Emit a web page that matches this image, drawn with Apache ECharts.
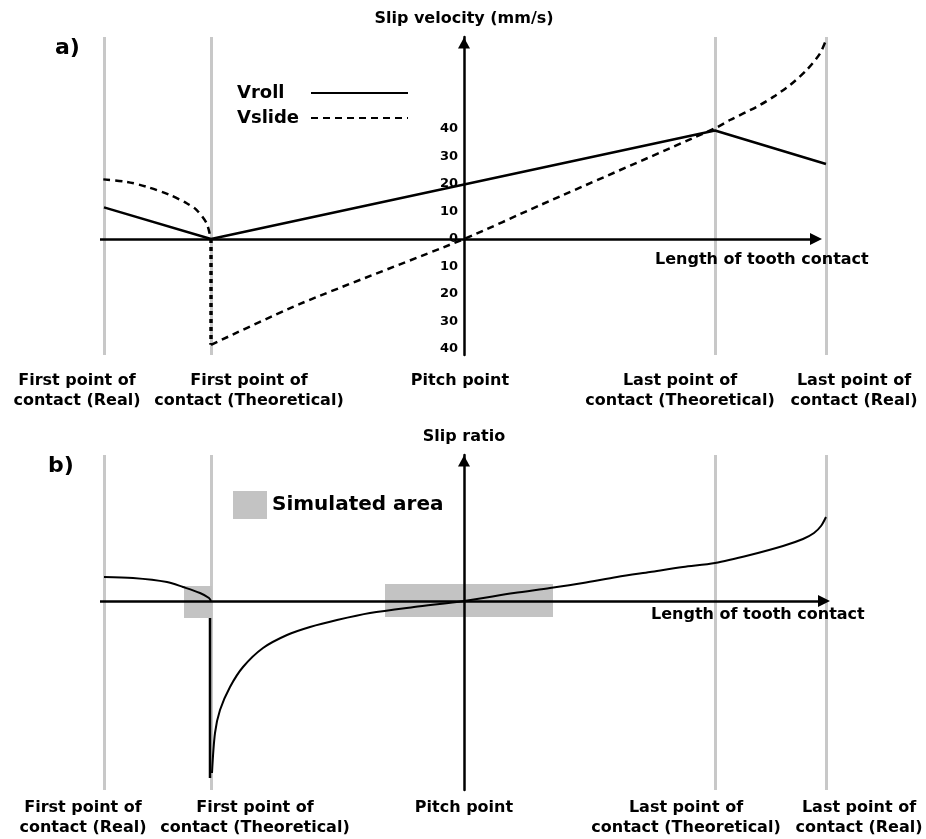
<!DOCTYPE html>
<html><head><meta charset="utf-8">
<script src="https://cdn.jsdelivr.net/npm/echarts@6/dist/echarts.min.js"></script>
<style>html,body{margin:0;padding:0;background:#fff}#c{width:926px;height:839px}</style>
</head><body><div id="c"></div>
<script>
// positions along the path of contact (pitch point = 0)
const contactPoints = [-36.0, -25.3, 0, 25.1, 36.2];
const contactLabels = ['First point of\ncontact (Real)', 'First point of\ncontact (Theoretical)', 'Pitch point', 'Last point of\ncontact (Theoretical)', 'Last point of\ncontact (Real)'];
const velocityTicks = [-40, -30, -20, -10, 0, 10, 20, 30, 40];

// a) slip velocity (mm/s)
const vrollX = [-36.0, -25.3, 0, 25.1, 36.2];
const vrollY = [11.5, 0, 19.8, 39.5, 27.3];
const vslideFlankX = [-36.07, -33.73, -31.73, -29.4, -27.73, -26.73, -25.73, -25.33];
const vslideFlankY = [21.7, 20.8, 19.0, 16.0, 13.0, 10.5, 5.7, 0];
const vslideDropX = [-25.3, -25.3];
const vslideDropY = [0, -38.5];
const vslideMainX = [-25.3, -16.4, 0, 7.6, 25.1, 26.6, 29.27, 30.93, 32.6, 34.27, 35.6, 36.27];
const vslideMainY = [-38.5, -23.6, 0, 12.3, 40.3, 43.3, 48.1, 51.7, 56.0, 61.5, 67.5, 73.0];

// b) slip ratio
const slipLeftX = [-36.0, -33.1, -29.7, -28.1, -26.4, -25.5, -25.3];
const slipLeftY = [0.24, 0.23, 0.19, 0.14, 0.08, 0.03, 0];
const slipDropX = [-25.4, -25.4];
const slipDropY = [-0.17, -1.77];
const slipRightX = [-25.2, -24.9, -24.4, -23.4, -22.1, -20.1, -17.7, -15.4, -12.7, -9.4, -5.0, 0, 5.0, 8.6, 11.9, 15.3, 18.6, 21.9, 25.1, 28.6, 31.9, 33.9, 35.0, 35.7, 36.2];
const slipRightY = [-1.72, -1.32, -1.09, -0.86, -0.66, -0.47, -0.34, -0.26, -0.19, -0.12, -0.06, 0, 0.08, 0.13, 0.18, 0.24, 0.29, 0.34, 0.38, 0.46, 0.55, 0.62, 0.68, 0.75, 0.84];

// simulated areas [x start, x end, y top, y bottom]
const simX0 = [-28.0, -7.9];
const simX1 = [-25.2, 8.9];
const simYTop = [0.15, 0.17];
const simYBottom = [-0.17, -0.16];

const FF = 'DejaVu Sans';
const zip = (xs, ys) => xs.map((x, i) => [x, ys[i]]);
const grayPts = contactPoints.filter(v => v !== 0);

function labelAxis(gi, margin, pads, which) {
  const rich = {};
  pads.forEach((p, i) => {
    rich['s' + i] = { fontFamily: FF, fontWeight: 'bold', fontSize: 16, lineHeight: 20, color: '#000', padding: p };
  });
  return {
    gridIndex: gi, type: 'value', min: -36.4, max: 36.6, position: 'bottom', offset: 0,
    axisLine: { show: false, onZero: false }, axisTick: { show: false }, splitLine: { show: false },
    axisLabel: {
      customValues: which.map(i => contactPoints[i]), margin: margin, showMinLabel: true, showMaxLabel: true, hideOverlap: false,
      fontFamily: FF, fontWeight: 'bold', fontSize: 16, lineHeight: 20, color: '#000',
      formatter: function (v) {
        let idx = 0, best = 1e9;
        contactPoints.forEach((c, i) => { if (Math.abs(c - v) < best) { best = Math.abs(c - v); idx = i; } });
        return contactLabels[idx].split('\n').map(s => '{s' + idx + '|' + s + '}').join('\n');
      },
      rich: rich
    }
  };
}

function grayLines(xi) {
  return {
    type: 'line', xAxisIndex: xi, yAxisIndex: xi >= 2 ? 1 : 0, data: grayPts.map(x => [x, 0]), symbol: 'none',
    lineStyle: { opacity: 0 }, z: 1, silent: true,
    markLine: { silent: true, z: 1, symbol: 'none', label: { show: false }, animation: false,
      lineStyle: { color: '#c8c8c8', width: 3, type: 'solid' },
      data: grayPts.map(x => ({ xAxis: x })) }
  };
}

function xArrow(xi, yi, endX) {
  return {
    type: 'line', xAxisIndex: xi, yAxisIndex: yi, data: [], symbol: 'none', z: 4, silent: true,
    markLine: { silent: true, z: 4, symbol: ['none', 'triangle'], symbolSize: 12, label: { show: false }, animation: false,
      lineStyle: { color: '#000', width: 2.5, type: 'solid' },
      data: [[{ coord: [-36.4, 0] }, { coord: [endX, 0] }]] }
  };
}

const lineBase = { type: 'line', symbol: 'none', silent: true, z: 3 };
const padsA = [[0, 54, 0, 0], [0, 0, 0, 76], [0, 8, 0, 0], [0, 70, 0, 0], [0, 0, 0, 56]];
const padsB = [[0, 42, 0, 0], [0, 0, 0, 88], [0, 0, 0, 0], [0, 58, 0, 0], [0, 0, 0, 66]];

const option = {
  animation: false,
  backgroundColor: '#fff',
  title: [
    { text: 'a)', left: 55, top: 37, padding: 0, textStyle: { fontFamily: FF, fontWeight: 'bold', fontSize: 22, color: '#000' } },
    { text: 'b)', left: 48, top: 455, padding: 0, textStyle: { fontFamily: FF, fontWeight: 'bold', fontSize: 22, color: '#000' } },
    { text: 'Length of tooth contact', left: 655, top: 252, padding: 0, textStyle: { fontFamily: FF, fontWeight: 'bold', fontSize: 16, color: '#000' } },
    { text: 'Length of tooth contact', left: 651, top: 607, padding: 0, textStyle: { fontFamily: FF, fontWeight: 'bold', fontSize: 16, color: '#000' } }
  ],
  legend: [
    { data: ['Vroll', 'Vslide'], orient: 'vertical', left: 237, top: 84, padding: 0, align: 'right', itemWidth: 97, itemHeight: 14, itemGap: 7,
      selectedMode: false, itemStyle: { opacity: 0, color: 'rgba(0,0,0,0)', borderWidth: 0 },
      formatter: '{n|{name}}',
      textStyle: { fontFamily: FF, fontWeight: 'bold', fontSize: 18, color: '#000',
        rich: { n: { width: 69, align: 'left', fontFamily: FF, fontWeight: 'bold', fontSize: 18, lineHeight: 22, color: '#000' } } } },
    { data: ['Simulated area'], left: 233, top: 491, padding: 0, icon: 'rect', itemWidth: 34, itemHeight: 28, itemGap: 5, selectedMode: false,
      textStyle: { fontFamily: FF, fontWeight: 'bold', fontSize: 20, color: '#000' } }
  ],
  grid: [
    { left: 100, width: 730, top: 37, height: 318 },
    { left: 100, width: 730, top: 455, height: 335 }
  ],
  xAxis: [
    labelAxis(0, 16, padsA, [0, 2, 4]),
    labelAxis(0, 16, padsA, [1, 3]),
    labelAxis(1, 8, padsB, [0, 2, 4]),
    labelAxis(1, 8, padsB, [1, 3])
  ],
  yAxis: [
    { gridIndex: 0, type: 'value', min: -42.2, max: 73.5, z: 5, position: 'left', offset: -364,
      axisLine: { show: true, onZero: false, symbol: ['none', 'triangle'], symbolSize: [12, 11], symbolOffset: [0, -6], lineStyle: { color: '#000', width: 2.5 } },
      axisTick: { show: false }, splitLine: { show: false },
      axisLabel: { customValues: velocityTicks, formatter: v => String(Math.abs(v)), margin: 6, fontFamily: FF, fontWeight: 'bold', fontSize: 13, color: '#000' },
      name: 'Slip velocity (mm/s)', nameLocation: 'end', nameGap: 10,
      nameTextStyle: { fontFamily: FF, fontWeight: 'bold', fontSize: 16, color: '#000', align: 'center' } },
    { gridIndex: 1, type: 'value', min: -1.89, max: 1.46, z: 5, position: 'left', offset: -364,
      axisLine: { show: true, onZero: false, symbol: ['none', 'triangle'], symbolSize: [12, 11], symbolOffset: [0, -6], lineStyle: { color: '#000', width: 2.5 } },
      axisTick: { show: false }, splitLine: { show: false }, axisLabel: { show: false },
      name: 'Slip ratio', nameLocation: 'end', nameGap: 10,
      nameTextStyle: { fontFamily: FF, fontWeight: 'bold', fontSize: 16, color: '#000', align: 'center' } }
  ],
  series: [
    grayLines(0),
    grayLines(2),
    Object.assign({}, lineBase, { name: 'Vroll', xAxisIndex: 0, yAxisIndex: 0, data: zip(vrollX, vrollY), lineStyle: { color: '#000', width: 2.5 }, itemStyle: { color: '#000' } }),
    Object.assign({}, lineBase, { name: 'Vslide', xAxisIndex: 0, yAxisIndex: 0, data: zip(vslideMainX, vslideMainY), smooth: 0.25, lineStyle: { color: '#000', width: 2.5, type: [7, 5] }, itemStyle: { color: '#000' } }),
    Object.assign({}, lineBase, { name: 'Vslide flank', xAxisIndex: 0, yAxisIndex: 0, data: zip(vslideFlankX, vslideFlankY), smooth: 0.3, lineStyle: { color: '#000', width: 2.5, type: [7, 5] }, itemStyle: { color: '#000' } }),
    Object.assign({}, lineBase, { name: 'Vslide drop', xAxisIndex: 0, yAxisIndex: 0, z: 4, data: zip(vslideDropX, vslideDropY), lineStyle: { color: '#000', width: 3.5, type: [4, 4] }, itemStyle: { color: '#000' } }),
    { type: 'custom', name: 'Simulated area', xAxisIndex: 2, yAxisIndex: 1, z: 1, silent: true,
      itemStyle: { color: '#c3c3c3' },
      data: simX0.map((x, i) => [x, simX1[i], simYTop[i], simYBottom[i]]),
      encode: { x: [0, 1], y: [2, 3] },
      renderItem: function (params, api) {
        const p0 = api.coord([api.value(0), api.value(2)]);
        const p1 = api.coord([api.value(1), api.value(3)]);
        return { type: 'rect', shape: { x: p0[0], y: p0[1], width: p1[0] - p0[0], height: p1[1] - p0[1] }, style: api.style() };
      } },
    Object.assign({}, lineBase, { name: 'Slip ratio left', xAxisIndex: 2, yAxisIndex: 1, data: zip(slipLeftX, slipLeftY), smooth: 0.3, lineStyle: { color: '#000', width: 2 } }),
    Object.assign({}, lineBase, { name: 'Slip ratio drop', xAxisIndex: 2, yAxisIndex: 1, data: zip(slipDropX, slipDropY), lineStyle: { color: '#000', width: 2.5 } }),
    Object.assign({}, lineBase, { name: 'Slip ratio', xAxisIndex: 2, yAxisIndex: 1, data: zip(slipRightX, slipRightY), smooth: 0.3, lineStyle: { color: '#000', width: 2 } }),
    xArrow(0, 0, 35.2),
    xArrow(2, 1, 36.0)
  ]
};

const chart = echarts.init(document.getElementById('c'), null, { renderer: 'canvas' });
chart.setOption(option);
</script>
</body></html>
